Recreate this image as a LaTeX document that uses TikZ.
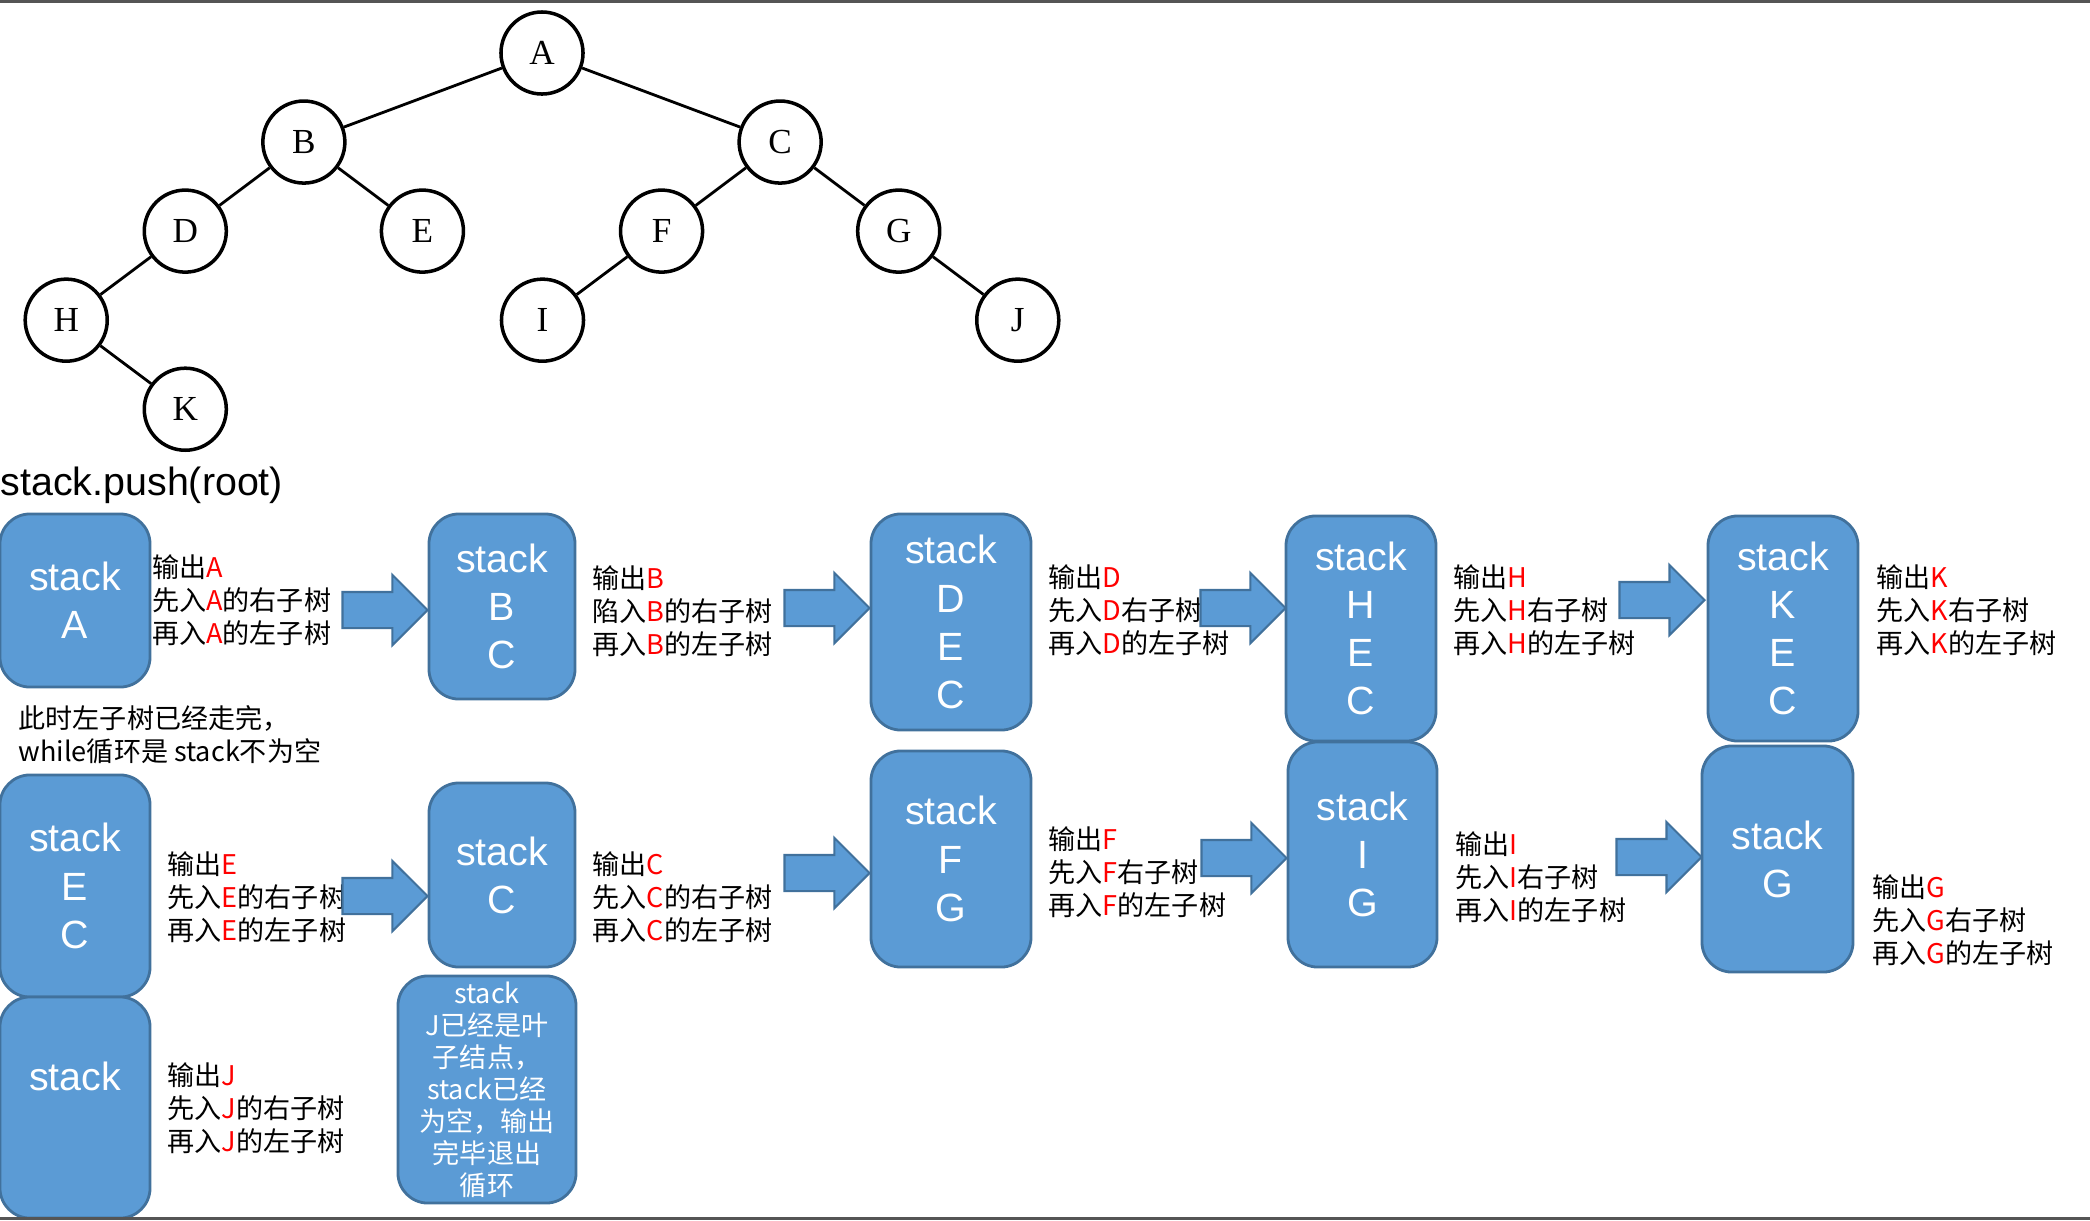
\documentclass[tikz,border=0pt]{standalone}
\usepackage{fontspec}
\setmainfont{Liberation Sans}
\newfontfamily\cjk{Noto Sans CJK SC}
\newfontfamily\treeletters{Liberation Serif}
\usetikzlibrary{positioning,shapes.arrows}
\definecolor{boxblue}{RGB}{91,155,213}
\definecolor{boxline}{RGB}{65,113,156}
\definecolor{frameline}{RGB}{85,85,85}
\newcommand{\redch}[1]{\textcolor{red}{#1}}

\begin{document}
\begin{tikzpicture}[x=0.01cm,y=-0.01cm,
  treenode/.style={circle,draw,line width=1pt,minimum size=0.82cm,inner sep=0pt,
    font=\treeletters\fontsize{10}{12}\selectfont},
  edge from parent/.style={draw,line width=0.8pt},
  stackbox/.style={draw=boxline,fill=boxblue,line width=0.8pt,rounded corners=0.3cm,
    text=white,align=center,inner sep=0pt,font=\fontsize{11.2}{13.7}\selectfont},
  leafbox/.style={stackbox,font=\cjk\fontsize{7.7}{9.1}\selectfont},
  note/.style={anchor=west,align=left,inner sep=0pt,font=\cjk\fontsize{7.7}{9.4}\selectfont},
  pusharrow/.style={single arrow,draw=boxline,fill=boxblue,line width=0.6pt,
    minimum height=0.85cm,single arrow head extend=0.17cm,
    inner xsep=0pt,inner ysep=0.17cm,anchor=tip}]
  \useasboundingbox (0,0) rectangle (2090,1220);

  % the tree
  \node[treenode] (A) at (542,53) {A}
    [level distance=0.89cm,
     level 1/.style={sibling distance=4.76cm},
     level 2/.style={sibling distance=2.37cm},
     level 3/.style={sibling distance=2.38cm},
     level 4/.style={sibling distance=2.38cm}]
    child {node[treenode] (B) {B}
      child {node[treenode] (D) {D}
        child {node[treenode] (H) {H}
          child[missing] {}
          child {node[treenode] (K) {K}}}
        child[missing] {}}
      child {node[treenode] (E) {E}}}
    child {node[treenode] (C) {C}
      child {node[treenode] (F) {F}
        child {node[treenode] (I) {I}}
        child[missing] {}}
      child {node[treenode] (G) {G}
        child[missing] {}
        child {node[treenode] (J) {J}}}};

  \node[anchor=base west,inner sep=0pt,font=\fontsize{11.2}{13.7}\selectfont] (push) at (0,495) {stack.push(root)};

  % first row
  \node[stackbox,minimum width=1.5cm,minimum height=1.73cm] (sA) at (75,600.5) {stack\\A};
  \node[stackbox,minimum width=1.46cm,minimum height=1.85cm] (sBC) at (502,606.5) {stack\\B\\C};
  \node[stackbox,minimum width=1.6cm,minimum height=2.16cm] (sDEC) at (951,622) {stack\\D\\E\\C};
  \node[stackbox,minimum width=1.5cm,minimum height=2.25cm] (sHEC) at (1361,628.5) {stack\\H\\E\\C};
  \node[stackbox,minimum width=1.5cm,minimum height=2.25cm] (sKEC) at (1783,628.5) {stack\\K\\E\\C};

  \node[note] (tA) [right=0pt of sA] {输出\redch{A}\\先入\redch{A}的右子树\\再入\redch{A}的左子树};
  \node[note] (tB) at (592,611) {输出\redch{B}\\陷入\redch{B}的右子树\\再入\redch{B}的左子树};
  \node[note] (tD) at (1048,610) {输出\redch{D}\\先入\redch{D}右子树\\再入\redch{D}的左子树};
  \node[note] (tH) at (1453,610) {输出\redch{H}\\先入\redch{H}右子树\\再入\redch{H}的左子树};
  \node[note] (tK) at (1876,610) {输出\redch{K}\\先入\redch{K}右子树\\再入\redch{K}的左子树};

  \node[pusharrow] (p1) at (429,610) {};
  \node[pusharrow] (p2) at (871,608) {};
  \node[pusharrow] (p3) at (1287,608) {};
  \node[pusharrow] (p4) at (1706,600) {};

  \node[note] (left) at (18,735) {此时左子树已经走完，\\while循环是 stack不为空};

  % second row
  \node[stackbox,minimum width=1.5cm,minimum height=2.22cm] (sEC) at (75,886) {stack\\E\\C};
  \node[stackbox,minimum width=1.5cm,minimum height=2.21cm] (sEmpty) at (75,1107.5) {stack\\\strut};
  \node[stackbox,minimum width=1.46cm,minimum height=1.84cm] (sC) at (502,875) {stack\\C};
  \node[leafbox,minimum width=1.78cm,minimum height=2.27cm] (sLeaf) at (487,1089.5)
    {stack\\J已经是叶\\子结点，\\stack已经\\为空，输出\\完毕退出\\循环};
  \node[stackbox,minimum width=1.6cm,minimum height=2.16cm] (sFG) at (951,859) {stack\\F\\G};
  \node[stackbox,minimum width=1.49cm,minimum height=2.25cm] (sIG) at (1362.5,854.5) {stack\\I\\G};
  \node[stackbox,minimum width=1.51cm,minimum height=2.26cm] (sG) at (1777.5,859) {stack\\G};

  \node[note] (tE) at (167,897) {输出\redch{E}\\先入\redch{E}的右子树\\再入\redch{E}的左子树};
  \node[note] (tC) at (592,897) {输出\redch{C}\\先入\redch{C}的右子树\\再入\redch{C}的左子树};
  \node[note] (tF) at (1048,872) {输出\redch{F}\\先入\redch{F}右子树\\再入\redch{F}的左子树};
  \node[note] (tI) at (1455,877) {输出\redch{I}\\先入\redch{I}右子树\\再入\redch{I}的左子树};
  \node[note] (tG) at (1872,920) {输出\redch{G}\\先入\redch{G}右子树\\再入\redch{G}的左子树};
  \node[note] (tJ) at (167,1108) {输出\redch{J}\\先入\redch{J}的右子树\\再入\redch{J}的左子树};

  \node[pusharrow] (p5) at (429,896) {};
  \node[pusharrow] (p6) at (871,873) {};
  \node[pusharrow] (p7) at (1288,858) {};
  \node[pusharrow] (p8) at (1703,857) {};

  \draw[frameline,line width=0.9pt] (0,1) -- (2090,1);
  \draw[frameline,line width=0.9pt] (0,1218.5) -- (2090,1218.5);
\end{tikzpicture}
\end{document}
